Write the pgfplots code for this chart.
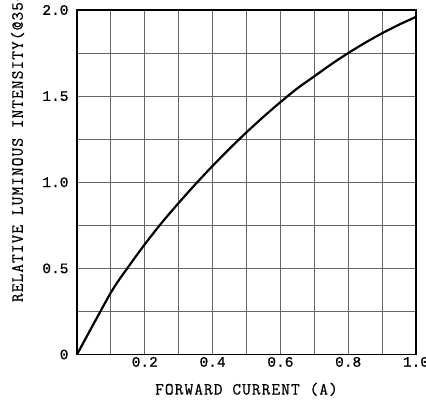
\documentclass[border=0pt]{standalone}
\usepackage{fontspec}
\usepackage{pgfplots}
\pgfplotsset{compat=1.18}
\newfontfamily\labfont[LetterSpace=6, FakeBold=0.6]{Latin Modern Mono}
\newfontfamily\tickfont[FakeBold=0.8]{Liberation Mono}

\begin{document}
\begin{tikzpicture}
\begin{axis}[
    at={(0pt,0pt)}, anchor=south west,
    scale only axis,
    width=339pt, height=344.5pt,
    xmin=0, xmax=1, ymin=0, ymax=2,
    xtick={0.2,0.4,0.6,0.8,1.0},
    xticklabels={0.2,0.4,0.6,0.8,1.0},
    minor xtick={0.1,0.3,0.5,0.7,0.9},
    ytick={0,0.5,1.0,1.5,2.0},
    yticklabels={0,0.5,1.0,1.5,2.0},
    minor ytick={0.25,0.75,1.25,1.75},
    grid=both,
    major grid style={gray!80!black, line width=1pt},
    minor grid style={gray!80!black, line width=1pt},
    major tick length=0pt, minor tick length=0pt,
    axis line style={black, line width=1.3pt},
    tick label style={font=\tickfont\fontsize{14.5}{16}\selectfont},
    xticklabel style={yshift=1pt},
    yticklabel style={xshift=-5pt},
    xlabel={FORWARD CURRENT (A)},
    xlabel style={font=\labfont\fontsize{17}{19}\selectfont, yshift=-9pt},
    ylabel={RELATIVE LUMINOUS INTENSITY(@350mA)},
    ylabel style={font=\labfont\fontsize{17}{19}\selectfont,
        at={(axis description cs:-0.160,0.142)}, anchor=base west, rotate=0},
]
\addplot[black, line width=2.2pt, smooth, tension=0.4] coordinates {
    (0,0) (0.1,0.36) (0.15,0.505) (0.2,0.64) (0.25,0.765) (0.3,0.88)
    (0.35,0.99) (0.4,1.095) (0.45,1.195) (0.5,1.29) (0.55,1.38)
    (0.6,1.465) (0.65,1.545) (0.7,1.615) (0.75,1.685) (0.8,1.75)
    (0.85,1.81) (0.9,1.865) (0.95,1.915) (1.0,1.96)
};
\end{axis}
\pgfresetboundingbox
\useasboundingbox (-77pt,-52.5pt) rectangle (349pt,354.5pt);
\end{tikzpicture}
\end{document}
